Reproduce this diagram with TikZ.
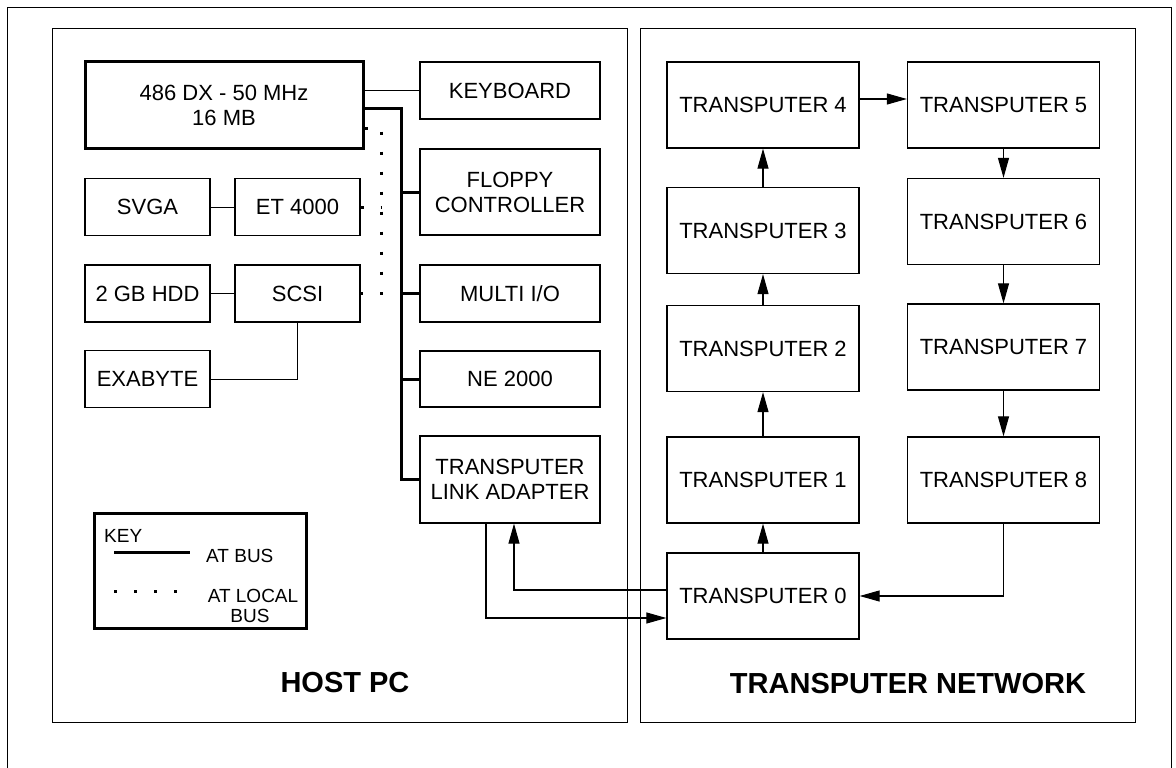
\documentclass[tikz,border=0pt]{standalone}
\usepackage{fontspec}
\setmainfont{Liberation Sans}
\usetikzlibrary{arrows.meta}

\begin{document}
\begin{tikzpicture}[x=1pt,y=-1pt,
  frame/.style={draw, line width=1pt},
  box/.style={draw, line width=1.3pt, inner sep=0pt, align=center,
              font=\fontsize{22}{25}\selectfont},
  card/.style={box, minimum width=180pt},
  small/.style={box, minimum width=125pt, minimum height=57pt},
  tp/.style={box, minimum width=192pt, minimum height=86pt},
  heavy/.style={line width=3pt},
  thinline/.style={line width=1pt},
  atbus/.style={line width=3pt},
  localbus/.style={line width=3pt, dash pattern=on 3pt off 17pt},
  link/.style={line width=1.1pt, -{Triangle[length=20pt,width=11pt]}},
  keytext/.style={font=\fontsize{19}{21}\selectfont, inner sep=0pt},
  title/.style={font=\bfseries\fontsize{29}{31}\selectfont, inner sep=0pt}
]
\useasboundingbox (0,0) rectangle (1176,768);

% outer frame and the two panels
\draw[frame] (7,768) -- (7,8) -- (1171,8) -- (1171,768);
\draw[frame] (52,29) rectangle (627,722);
\draw[frame] (640,29) rectangle (1135,722);

% ---------------- host PC ----------------
\node[box, heavy, minimum width=278pt, minimum height=86pt] (cpu) at (224,105) {486 DX - 50 MHz\\16 MB};
\node[card, minimum height=57pt] (kbd)    at (510,90.5) {KEYBOARD};
\node[card, minimum height=86pt] (floppy) at (510,192)  {FLOPPY\\CONTROLLER};
\node[card, minimum height=57pt] (multi)  at (510,293.5) {MULTI I/O};
\node[card, minimum height=56pt] (ne)     at (510,379)  {NE 2000};
\node[card, minimum height=87pt] (tla)    at (510,479.5) {TRANSPUTER\\LINK ADAPTER};

\node[small] (svga) at (147.5,207)   {SVGA};
\node[small] (et)   at (297.5,207)   {ET 4000};
\node[small] (hdd)  at (147.5,293.5) {2 GB HDD};
\node[small] (scsi) at (297.5,293.5) {SCSI};
\node[small] (exa)  at (147.5,379)   {EXABYTE};

% peripheral links
\draw[thinline] (kbd.west) -- (kbd.west -| cpu.east);
\draw[thinline] (svga.east) -- (et.west);
\draw[thinline] (hdd.east) -- (scsi.west);
\draw[thinline] (scsi.south) |- (exa.east);

% AT bus
\coordinate (bus) at (401,108);
\draw[atbus] (cpu.east |- bus) -- (bus) |- (tla.west);
\draw[atbus] (floppy.west) -- (floppy.west -| bus);
\draw[atbus] (multi.west) -- (multi.west -| bus);
\draw[atbus] (ne.west) -- (ne.west -| bus);

% AT local bus
\coordinate (lbtop) at (381,128);
\coordinate (lbbot) at (381,293);
\draw[localbus] (cpu.east |- lbtop) -- (lbtop) -- (lbbot) -- (scsi.east |- lbbot);
\draw[localbus] (et.east) -- (et.east -| lbtop);

% key
\node[draw, heavy, minimum width=212pt, minimum height=115pt, inner sep=0pt] (keybox) at (200,570.5) {};
\node[keytext, anchor=base west] (keylbl) at (104,542) {KEY};
\coordinate (kbusA) at (114,552);
\coordinate (kbusB) at (190,552);
\draw[atbus] (kbusA) -- (kbusB);
\node[keytext, anchor=base west] (keybus) at (206,562) {AT BUS};
\coordinate (klocA) at (114,591);
\coordinate (klocB) at (178,591);
\draw[localbus] (klocA) -- (klocB);
\node[keytext, anchor=base] (keyloc1) at (253,602) {AT LOCAL};
\node[keytext, anchor=base] (keyloc2) at (250,622) {BUS};

\node[title, anchor=base] (hostlbl) at (345,692) {HOST PC};

% ---------------- transputer network ----------------
\node[tp] (t4) at (763,105)    {TRANSPUTER 4};
\node[tp] (t3) at (763,230.5)  {TRANSPUTER 3};
\node[tp] (t2) at (763,348.5)  {TRANSPUTER 2};
\node[tp] (t1) at (763,480)    {TRANSPUTER 1};
\node[tp] (t0) at (763,596)    {TRANSPUTER 0};
\node[tp] (t5) at (1003.5,105)   {TRANSPUTER 5};
\node[tp] (t6) at (1003.5,221.5) {TRANSPUTER 6};
\node[tp] (t7) at (1003.5,347)   {TRANSPUTER 7};
\node[tp] (t8) at (1003.5,480)   {TRANSPUTER 8};

\draw[link] (t0.north) -- (t1.south);
\draw[link] (t1.north) -- (t2.south);
\draw[link] (t2.north) -- (t3.south);
\draw[link] (t3.north) -- (t4.south);
\draw[link] ([yshift=6pt]t4.east) -- ([yshift=6pt]t5.west);
\draw[link] (t5.south) -- (t6.north);
\draw[link] (t6.south) -- (t7.north);
\draw[link] (t7.south) -- (t8.north);
\draw[link] (t8.south) |- (t0.east);

% host link
\draw[link] ([xshift=-24pt]tla.south) |- ([yshift=-22pt]t0.west);
\draw[link] ([yshift=6pt]t0.west) -| ([xshift=4pt]tla.south);

\node[title, anchor=base] (netlbl) at (908,693) {TRANSPUTER NETWORK};
\end{tikzpicture}
\end{document}
